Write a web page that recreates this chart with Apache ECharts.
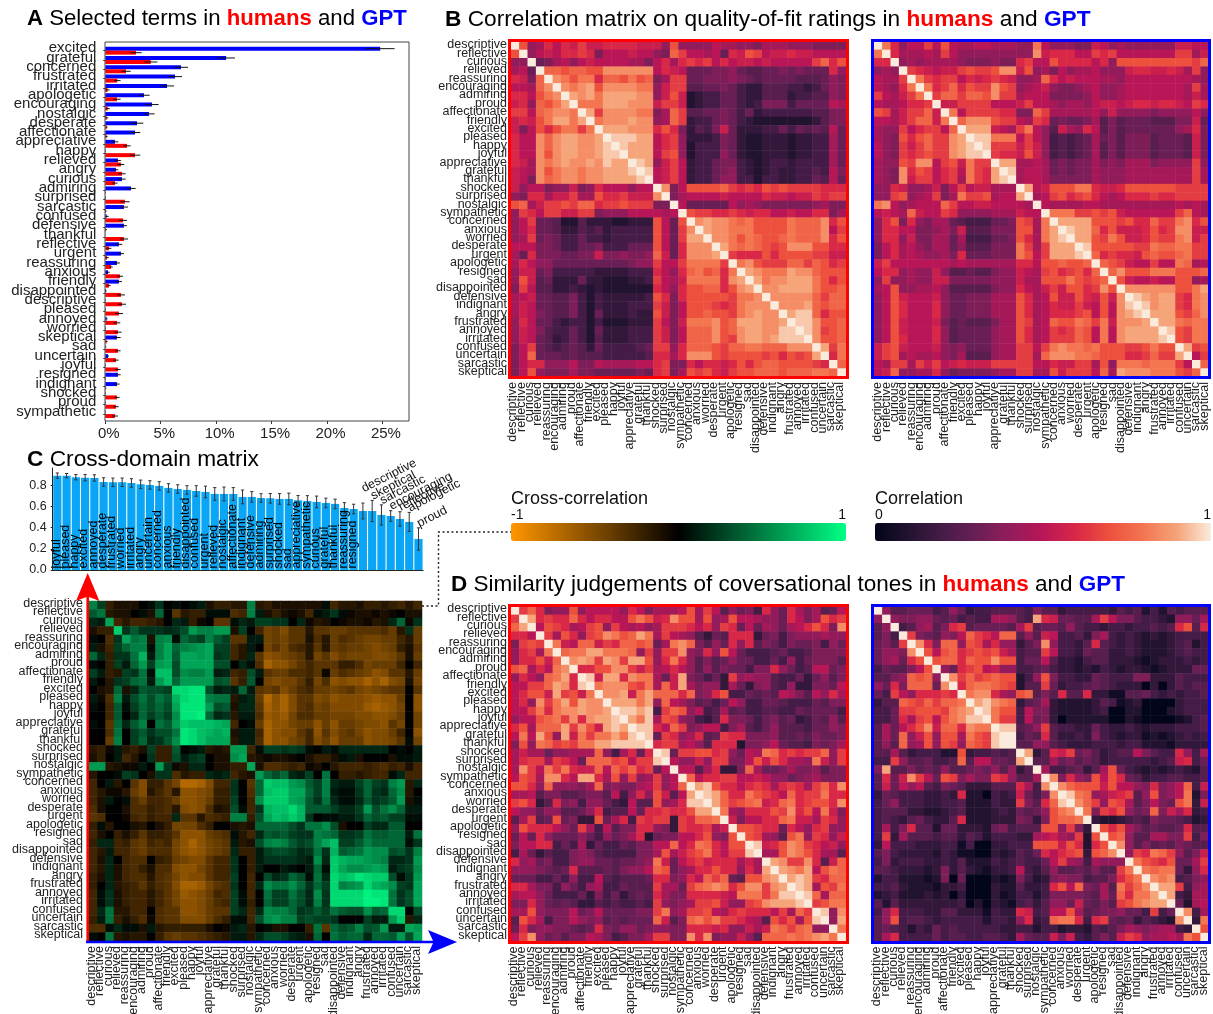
<!DOCTYPE html>
<html><head><meta charset="utf-8">
<style>html,body{margin:0;padding:0;background:#fff}#c{width:1213px;height:1014px}</style>
<script src="https://cdn.jsdelivr.net/npm/echarts@6/dist/echarts.min.js"></script>
</head><body><div id="c"></div>
<script>
const FONT='"Liberation Sans",Arial,sans-serif';
// Term order of the matrices
const terms=["descriptive","reflective","curious","relieved","reassuring","encouraging","admiring","proud","affectionate","friendly","excited","pleased","happy","joyful","appreciative","grateful","thankful","shocked","surprised","nostalgic","sympathetic","concerned","anxious","worried","desperate","urgent","apologetic","resigned","sad","disappointed","defensive","indignant","angry","frustrated","annoyed","irritated","confused","uncertain","sarcastic","skeptical"];
// Panel A
const aTerms=["excited","grateful","concerned","frustrated","irritated","apologetic","encouraging","nostalgic","desperate","affectionate","appreciative","happy","relieved","angry","curious","admiring","surprised","sarcastic","confused","defensive","thankful","reflective","urgent","reassuring","anxious","friendly","disappointed","descriptive","pleased","annoyed","worried","skeptical","sad","uncertain","joyful","resigned","indignant","shocked","proud","sympathetic"];
const aGpt=[24.8,10.9,6.83,6.29,5.57,3.49,4.21,3.94,2.86,2.68,0.87,0.03,1.14,0.96,1.5,2.32,0.03,1.68,0.12,1.68,0.01,1.23,1.41,1.05,0.24,1.23,0.06,0.03,0.03,0.12,0.03,1.05,0.03,0.24,0.03,1.14,1.05,0.03,0.03,0.03];
const aGptErr=[1.3,0.8,0.63,0.63,0.63,0.51,0.6,0.51,0.57,0.48,0.3,0.03,0.27,0.21,0.33,0.42,0.03,0.37,0.18,0.28,0.02,0.3,0.27,0.27,0.15,0.27,0.06,0.03,0.03,0.08,0.03,0.33,0.07,0.09,0.03,0.24,0.24,0.03,0.03,0.03];
const aHuman=[2.77,4.1,1.87,1.08,0.2,1.05,0.21,0.12,0.12,0.12,1.96,2.68,1.41,1.5,0.87,0.03,1.77,0.06,1.6,0.06,1.68,0.33,0.15,0.51,1.32,0.33,1.41,1.5,1.23,1.05,1.14,0.12,1.14,0.96,1.14,0.03,0.05,1.05,0.96,0.87];
const aHumanErr=[0.51,0.6,0.42,0.3,0.19,0.33,0.19,0.15,0.08,0.08,0.33,0.48,0.3,0.33,0.24,0.03,0.43,0.06,0.36,0.09,0.37,0.22,0.15,0.15,0.28,0.15,0.36,0.37,0.37,0.3,0.33,0.08,0.24,0.24,0.24,0.03,0.04,0.24,0.24,0.27];
const aTicks=[0,5,10,15,20,25];
// Panel C bars
const cTerms=["joyful","pleased","happy","excited","annoyed","desperate","frustrated","worried","irritated","angry","uncertain","concerned","anxious","friendly","disappointed","confused","urgent","relieved","nostalgic","affectionate","indignant","defensive","admiring","surprised","shocked","sad","appreciative","sympathetic","curious","grateful","thankful","reassuring","resigned","descriptive","skeptical","sarcastic","encouraging","reflective","apologetic","proud"];
const cVals=[.891,.891,.876,.872,.869,.831,.828,.828,.822,.809,.803,.794,.775,.765,.756,.746,.737,.718,.718,.718,.69,.69,.68,.677,.671,.671,.658,.652,.643,.633,.624,.586,.576,.557,.557,.52,.51,.482,.454,.293];
const cErrs=[.025,.02,.025,.03,.03,.04,.04,.04,.04,.04,.04,.04,.04,.04,.04,.05,.055,.06,.065,.06,.065,.05,.04,.045,.05,.055,.045,.05,.055,.045,.045,.05,.045,.075,.1,.095,.05,.068,.09,.105];
// Matrix letters: a=0 b=.05 c=.1 ... u=1; capitals are the same steps below zero (B=-.05 ...)
const bHuman=["u","ou","iiu","jkgu","mlhpu","kkjpru","mmkoqru","lmipoqsu","nnkpqrrqu","lmloqssqsu","lhkomoqqnqu","mkkrprssrrsu","mkkrprssrrstu","mkkrorssrrsttu","mljrqrsrrsrtssu","lkjroqrrqrrssstu","lkhrpqrrqrrsssstu","likkhiilhimkkkikku","ihmmjllnjjommnlllru","opjlnnonppmnnonnnhhu","inmknnllnnhiiikkkkjku","iknggfccfdddccdddokgou","ikmggfddfefdeeeeeokgnru","ijnghgeegeedeeeeeokgnssu","kkkhhgeegghe"+"eegggokgmrrru","jgmhhhgghhlhhihhiplgmrrrsu","jmkiiggggggggghiinkknqqqqnu","illgheeeeeddddeeemkimpqopmqu","iolfgdddgddcccddenkjlqqqqmrsu","hnkffddedcdccccccmkimooppmorsu","jklggffheceddddde"+"omhmooooonqqru","jlkggffhece"+"dddeee"+"nlhk"+"ooonmn"+"qrrr"+"u","jlkhgffhecg"+"dddedd"+"olhk"+"oopoon"+"qrsrr"+"u","imkggedeece"+"cccddd"+"nkhl"+"qqqrop"+"sssrrs"+"u","ilkhfeegecg"+"dddeee"+"nlhk"+"ppprop"+"rssrrtt"+"u","ilkgfdegecf"+"dddeee"+"nlhk"+"ppp"+"ron"+"rssrsttt"+"u","hkngfefgfdg"+"eeeefg"+"nnim"+"pppon"+"ppqqppp"+"rrr"+"u","hkpgggfgfff"+"eeeeef"+"mmjm"+"rrron"+"oooo"+"nomono"+"su","hkmmiiikhhk"+"jjjjkk"+"mnhh"+"mkmmlm"+"omoppoooo"+"nm"+"u","hkoihhhjhhg"+"gggghg"+"mnhj"+"onomln"+"oopppoppp"+"qqp"+"u"];
const bGpt=["u","qu","mmu","ijiu","kjjnu","kjimqu","nkjlnqu","kjjkmmnu","onjlnnplu","kkjlnpplqu","jiinkmnnkpu","jihomopnnrsu","kihnlnpnnrstu","kihnmnonnrsttu","jiionrrknolqnnu","jihrmonkmnkqnmsu","jihrlnnkmnjqnmstu","iimliijlhknklljjju","iinoijknhjqnnojkksu","qrkijkkkpnkkllkkkkju","klkjplkknmiiiijjjlkku","imohmihjjgfeeegghonjqu","immkkhhijhlfffhhhoojqsu","immilhhjjgjeeegghomjqstu","hkmjkihjjgifffhhhqnjnsssu","hkmjkjiijhmggghhhqoknssstu","lnkkkkkkkjkjjjjjjmmkoopoopu","kmmijiilif"+"fgffhii"+"lkjn"+"omnomp"+"u","iniijiillh"+"hhhhiii"+"ljjo"+"ooqonop"+"u","jkoiijjkif"+"ffffhii"+"mkjl"+"nloomnro"+"u","ikolkkklig"+"ghhhjjj"+"omjk"+"olloml"+"olr"+"u","ikomkkkmig"+"ghhhjjj"+"omjk"+"mllnlk"+"okrt"+"u","ikomkkkmig"+"ghhhjjj"+"omjk"+"mmmnok"+"okrst"+"u","ikolkkklhf"+"gfffhjj"+"onjk"+"pooqpn"+"qlrrrs"+"u","ikolkkkmif"+"ggggijj"+"omjk"+"nmnpok"+"qkrssss"+"u","ikomkkkmif"+"ggggijj"+"omjk"+"nnnpok"+"qkrssss"+"tu","lnolkkklih"+"igggijj"+"nnkn"+"qrqqpq"+"ooonnoqoo"+"u","lnojkjjkih"+"jfffijj"+"nnjp"+"rrrqqp"+"ooommnpnn"+"su","kjnnjnlnkl"+"mlllnnn"+"nnkk"+"mllnnj"+"oiqqqpqqq"+"nku","klpiijjmig"+"hhhhijj"+"nnjj"+"olnnnk"+"pjsrrrqqq"+"onpu"];
const dHuman=["u","nu","psu","mmku","hnonu","imnjqu","immolpu","opjmkqru","imkipqsmu","kknnpsrmtu","kmoolsnolqu","kmirnqsosrru","kknqmqrrsrrsu","ikkopqnrmrsstu","mojpppsnrolstsu","kqksoislqnqqsqtu","hoiqpnonqqssttttu","jljjgiijjjpiejmgmu","jmnnjnmkgpppnoknntu","jrnkqnqmllpkpnpmngku","konjrrmkssmjoinijnik"+"u","oomipiiihjphihhjknikpu","jjkfhhffghhfkeimiolfksu","nomdfmhieiigedkffoijmttu","kiigiiffgimeffkgmmnmmossu","fjnfgoghddogjmenmnndnmppqu","iommmkignj"+"ekfhhmmihd"+"nmmnjlu","gkgmigggig"+"eighjmcghh"+"kkmoihou","hkkmmegejd"+"geegfhhkkp"+"kmqpmkoou","ejgdfeehih"+"feeeehhjoj"+"lnoqmknnt"+"u","mijgheehii"+"ggfgghiqlg"+"kmnlmmmjlj"+"u","iiihgfgmff"+"fgfhiikpog"+"ijmmommimjs"+"u","gggeegeiee"+"kfefffgmmh"+"imkpnpgfoors"+"u","mmjhheigei"+"jeegfffnjj"+"gnpqrqmorrnrs"+"u","jkkigeeegd"+"hegdfgfmjh"+"hmmmmlkqqqnqtt"+"u","hhmigfgfdd"+"fefeefenih"+"ijnnoliino"+"rssst"+"u","jjoihhhkgh"+"kgggghhnqi"+"jnnokjmnmmmknjpn"+"u","fomjehhkih"+"ifgfgggplf"+"hpqoqnnmkjfomojot"+"u","gmhiihhgfg"+"mhgiighiih"+"hmmmlmiiljlqpnpqii"+"u","knrighfhhk"+"jhefhhjnnh"+"hrmrhiilif"+"pppqpqrsq"+"u"];
const dGpt=["u","iu","fiu","fheu","ghfnu","giihru","gijgmou","egffhkou","ffhipopiu","igmhpppgru","genkimmmnmu","dffponpnppqu","eegnnooonqrsu","eegmjnokoqrttu","fjgkmorlppmrqqu","fjgpiloioojqontu","fifpijoionipontuu","ffjfdeeeccodeefefu","eeniffgeefpfkkggfsu","hsffhfgfiffghgifidfu","fmglrnkgonhjhhnmiffju","flgkikfehgfdddfffmjeru","dgfeeeddedmccaedelgehru","egieeeddeefccceddnhfmptu","efffddccde"+"fcccdedgfg"+"ioqru","efedfgeddf"+"mcccdddhgd"+"hoppqu","ejehmffcgg"+"dddcghefff"+"ooinhdu","endjfffeff"+"dfeceeeddj"+"kljincou","dkeeedddee"+"beaaddeeeo"+"oolomcmou","fheddddced"+"bbaadcdfeg"+"mkmnodopru","ehdeeedded"+"fcccedefee"+"gknjiejiii"+"u","ffedddcdhd"+"fdcbddeked"+"fiffgfhffn"+"qu","ceecccbcha"+"gaaacbchec"+"dhihheffhm"+"oqu","eefdcccbdd"+"eaaadccfdd"+"emokphgjfqnpr"+"u","cdecccdcda"+"daaadbceec"+"ehhhhgfjgp"+"mqqsu","fcfddddddd"+"eacadcbefd"+"fiiglgfhfn"+"oqrssu","eimeeeddff"+"dddbeddmle"+"fkkojfghhi"+"ggeneg"+"u","fioeffedee"+"eeeceedimd"+"epqqmemngf"+"gdfedcru","fgfecedgef"+"eeeeeddeec"+"eecddcfefh"+"jihijjedu","fjmeeeegef"+"feeffedjgf"+"flhledfhfl"+"nmijjkjqou"];
const cross=["kfECCCabea"+"babcCEEDDk"+"DECCCCCCbF"+"DDCEEDEFDF","hjDCCabCia"+"HDEEbbbGFk"+"cCECBCFbce"+"bBCCBCBaCC","dcnFDFFEDa"+"dcEBaHHbdc"+"ffeeadBDCa"+"BCCBDCdiBe","CEEqeheeed"+"egmkkmmCfa"+"FJIKHHDHHI"+"IHHHHGIDeI","baGenjkCkl"+"bigfkhfHHc"+"cJIJHHCGDI"+"GHIJJIIFDI","cCFfikkbkn"+"iklmnffFDc"+"aJHJGFDHDI"+"HIIJKJIECH","idEeejockn"+"hnnmnefFDd"+"HLKJIHDJHK"+"IJJJKKJHCI","baEfcimfmn"+"gnnnnggadb"+"GNLLJHFHHH"+"EEGJIIIFaF","fcEDfejbpp"+"glkkmcdFEg"+"cHIIGGFHBI"+"GHIJLKHHDI","caDefijcmp"+"immmmghHEh"+"aJKJJHEJGL"+"KLLNLNKJCJ","aCDiCdhggf"+"rrssgcdcic"+"HIHKIGFIIJ"+"IHJKJIHHaH","cBGkcgjgjh"+"orsskjjDcd"+"IOLNKHHKJL"+"KKKLMLLIaL","baFhbfigig"+"nsssmghCdd"+"HNLNKHGJIK"+"KKKMNMLJaL","aaFhadifhf"+"lsstideDcc"+"GMLMJGGIIJ"+"JJKKLLKIaJ","baHidhkajh"+"mqpppon"+"Fab"+"INLLJIILIL"+"IIJKKLHJaJ","aaGjafhegg"+"jsrponoCcc"+"FNLKKHFLHK"+"IHJLKKIFaL","aaIkafideh"+"lsrpnnnDcc"+"GNLLJIFKIL"+"IIILKKJHbJ","DEBcDECfEE"+"habcDCDmmF"+"bffefebacb"+"ddddddabac","CEacFDaeEE"+"gcefaCClnD"+"CBCCBaCEEC"+"bcCaaaCbbc","mmDCBBcame"+"BCddaCCEEn"+"CGGFEFBCaD"+"FFFEFGEFCF","DaabfeaCee"+"GDEEdcdFDC"+"migidcfaja"+"EEDEFFbdFF","FacDaHKEEH"+"JOONKFFeaH"+"iqppmlhfkd"+"ccfifekmDd","FDBBDIKDFH"+"DLLKJEEeaG"+"ipqqnnifkc"+"bbeiedilDa","FCcabGIFFG"+"ILLKIEEfaF"+"lqqqnmhejd"+"bbdhefhmCb","GCaaCGGEFG"+"DKLKGCDgbF"+"eopprohhhf"+"ddfmgjlicc","HGaaBFGEFF"+"dHHDGFEkkE"+"gnpoqoeabb"+"cceighffbb","EbDaaCDaCE"+"JJJGEaaCDC"+"iiiigejjlg"+"Caafddhhaa","FCaECEHEEF"+"HLLLIHGbDF"+"dhghfeekji"+"eefjhhiicj","EddFEHIFGF"+"JLNLJIHcDC"+"gklkhfgknp"+"ffhkiiiibe","FDcFFHIGGG"+"JLMLJIHdEE"+"cfggfdejeo"+"hijmllghek","FCdaFGGaEF"+"IJKKHFFeaE"+"ceeeedcldq"+"onnmlkddem","FDdCFGECGG"+"KLLJHFFeaE"+"caacbacibq"+"nllmnmcefl","ECdCFGGDGH"+"JLKKHFFfaF"+"agdeigbjdr"+"pqsrqqgbem","EadDEFHEGH"+"KNNMJHGeaF"+"dljjlieifr"+"klmronlfen","FbeCEFFDFH"+"JMLKIFGfbF"+"ajffjgdler"+"rrrtssjegn","FbeCEFFDFH"+"JLLKIGFfbE"+"aiffigdker"+"rrrttsjegn","FdjDDFFaGH"+"HLLKIHHfdF"+"dlkkiefhfj"+"hgglhirrag","EcjECEGBGH"+"HKKKIGEbbF"+"glmkkfgffe"+"aaafccmqDd","GGbdbbCcDE"+"EEEECaBcdD"+"abCCaaEjHi"+"ghkghmccnm","bajDCDDaEH"+"IHHGFEDccD"+"dggfdcCiaj"+"hiidiihmgn"];
const rocket=["#03051a","#221331","#451c47","#691f55","#921c5b","#b91657","#d92847","#ed513e","#f37651","#f6a47a","#faebdd"];
const crossColors=["#ff9500","#000000","#00ff85"];

function level(ch){const lo="abcdefghijklmnopqrstu".indexOf(ch);return lo>=0?lo/20:-"ABCDEFGHIJKLMNOPQRSTU".indexOf(ch)/20;}
function triCells(rows){const out=[];rows.forEach((r,i)=>{for(let j=0;j<=i;j++){const v=level(r[j]);out.push([j,i,v]);if(j!==i)out.push([i,j,v]);}});return out;}
function fullCells(rows){const out=[];rows.forEach((r,i)=>{for(let j=0;j<40;j++)out.push([j,i,level(r[j])]);});return out;}

const heatGrids=[
 {name:"bH",left:511,top:41.5,w:335,h:335.5,labels:true,cells:triCells(bHuman),xs:5,ys:2},
 {name:"bG",left:874,top:41.5,w:335,h:335.5,labels:false,cells:triCells(bGpt),xs:1,ys:2},
 {name:"c", left:89, top:601,w:333,h:340,labels:true,cells:fullCells(cross),ym:6,xs:3,ys:4},
 {name:"dH",left:511,top:606.5,w:335,h:335,labels:true,cells:triCells(dHuman),xs:3.6,ys:4},
 {name:"dG",left:874,top:606.5,w:335,h:335,labels:false,cells:triCells(dGpt),xs:3,ys:4}
];
const grids=[{left:105.3,top:46,width:303.7,height:372.7,outerBoundsMode:'none'},{left:52.7,top:468,width:370.4,height:102,outerBoundsMode:'none'}];
const xAxes=[
 {gridIndex:0,type:'value',min:0,max:27.4,interval:5,offset:2.3,splitLine:{show:false},axisLine:{show:false},axisTick:{show:true,length:3,lineStyle:{color:'#333'}},
  axisLabel:{fontFamily:FONT,fontSize:15,color:'#222',margin:5,showMaxLabel:false,padding:[0,0,0,7],formatter:v=>aTicks.includes(v)?v+'%':''}},
 {gridIndex:1,type:'category',data:cTerms,axisLabel:{show:false},axisLine:{lineStyle:{color:'#222',width:1}},axisTick:{alignWithLabel:true,length:2,lineStyle:{color:'#222'}},splitLine:{show:false}}
];
const yAxes=[
 {gridIndex:0,type:'category',inverse:true,data:aTerms,axisLine:{show:false},axisTick:{show:true,alignWithLabel:true,length:2,lineStyle:{color:'#222'}},
  axisLabel:{interval:0,fontFamily:FONT,fontSize:15,color:'#222',margin:9,verticalAlign:'bottom',lineHeight:5}},
 {gridIndex:1,type:'value',min:0,max:0.963,interval:0.2,splitLine:{show:false},axisLine:{show:true,lineStyle:{color:'#222'}},axisTick:{show:true,length:2,lineStyle:{color:'#222'}},
  axisLabel:{fontFamily:FONT,fontSize:12.5,color:'#222',margin:6,showMaxLabel:false,formatter:v=>v.toFixed(1)}}
];
const series=[
 {type:'bar',name:'GPT',xAxisIndex:0,yAxisIndex:0,data:aGpt,barWidth:4,barGap:'0%',itemStyle:{color:'#0000ff'}},
 {type:'bar',name:'humans',xAxisIndex:0,yAxisIndex:0,data:aHuman,barWidth:4,barGap:'0%',itemStyle:{color:'#ff0000'}},
 errA(aGpt,aGptErr,-2),errA(aHuman,aHumanErr,2),
 {type:'bar',xAxisIndex:1,yAxisIndex:1,data:cVals,barWidth:8.2,itemStyle:{color:'#0aa6f5'}},
 {type:'custom',xAxisIndex:1,yAxisIndex:1,z:5,encode:{x:0,y:[1]},data:cVals.map((v,i)=>[i,v,cErrs[i]]),
  renderItem(p,api){const i=api.value(0),v=api.value(1),e=api.value(2),a=api.coord([i,v+e]),b=api.coord([i,v-e]);
   const ls=(x1,y1,x2,y2)=>({type:'line',shape:{x1,y1,x2,y2},style:{stroke:'#333',lineWidth:1}});
   return {type:'group',children:[ls(a[0],a[1],b[0],b[1]),ls(a[0]-1.6,a[1],a[0]+1.6,a[1]),ls(a[0]-1.6,b[1],a[0]+1.6,b[1])]};}},
 {type:'custom',xAxisIndex:1,yAxisIndex:1,z:6,encode:{x:0,y:[1]},clip:false,data:cVals.map((v,i)=>[i,v,cErrs[i]]),
  renderItem(p,api){const i=api.value(0),v=api.value(1),e=api.value(2),name=cTerms[i];
   if(i<33){const a=api.coord([i,0]);
    return {type:'text',x:a[0]-1.2,y:a[1]-1.5,rotation:Math.PI/2,style:{text:name,x:0,y:0,fill:'#000',font:'12.5px '+FONT,textAlign:'left',textVerticalAlign:'middle',align:'left',verticalAlign:'middle'}};}
   const a=api.coord([i,v+e]);
   return {type:'text',x:a[0]+2.4,y:a[1]-(name==='descriptive'?8:-2),rotation:27*Math.PI/180,style:{text:name,x:0,y:0,fill:'#111',font:'12.5px '+FONT,textAlign:'left',textVerticalAlign:'bottom',align:'left',verticalAlign:'bottom'}};}}
];
function errA(vals,errs,off){return {type:'custom',xAxisIndex:0,yAxisIndex:0,z:4,encode:{x:[0],y:1},data:vals.map((v,i)=>[v,i,errs[i]]),
  renderItem(p,api){const v=api.value(0),i=api.value(1),e=api.value(2),a=api.coord([Math.max(v-e,0),i]),b=api.coord([v+e,i]);
   return {type:'line',shape:{x1:a[0],y1:a[1]+off,x2:b[0],y2:b[1]+off},style:{stroke:'#111',lineWidth:1}};}};}
const rocketIdx=[],crossIdx=[];
heatGrids.forEach(g=>{
 const gi=grids.length;
 grids.push({left:g.left,top:g.top,width:g.w,height:g.h,outerBoundsMode:'none'});
 xAxes.push({gridIndex:gi,type:'category',data:terms,axisLine:{show:false},axisTick:{show:false},splitLine:{show:false},
  axisLabel:{interval:0,rotate:90,fontFamily:FONT,fontSize:12.5,color:'#222',margin:5,verticalAlign:'bottom',lineHeight:g.xs}});
 yAxes.push({gridIndex:gi,type:'category',inverse:true,data:terms,axisLine:{show:false},axisTick:{show:false},splitLine:{show:false},
  axisLabel:{show:g.labels,interval:0,fontFamily:FONT,fontSize:12.5,color:'#222',margin:g.ym||4,verticalAlign:'bottom',lineHeight:g.ys}});
 (g.name==='c'?crossIdx:rocketIdx).push(series.length);
 series.push({type:'heatmap',xAxisIndex:gi,yAxisIndex:gi,data:g.cells,progressive:0,itemStyle:{borderWidth:0}});
});
const txt=(x,y,text,size,align)=>({type:'text',z:60,silent:true,x,y,style:{text,fill:'#111',font:size+'px '+FONT,align:align||'left',verticalAlign:'middle'}});
const frame=(x1,y1,x2,y2,c)=>({type:'rect',z:50,silent:true,shape:{x:x1,y:y1,width:x2-x1,height:y2-y1},style:{fill:'none',stroke:c,lineWidth:3}});
const rich=s=>({b:{fontWeight:'bold',fontSize:s,fontFamily:FONT,color:'#000'},r:{fontWeight:'bold',fontSize:s,fontFamily:FONT,color:'#ff0000'},g:{fontWeight:'bold',fontSize:s,fontFamily:FONT,color:'#0000ff'}});
const title=(text,left,top,s)=>({text,left,top,padding:0,textStyle:{fontFamily:FONT,fontSize:s,fontWeight:'normal',color:'#000',rich:rich(s)}});
const option={
 animation:false,backgroundColor:'#fff',
 title:[
  title('{b|A} Selected terms in {r|humans} and {g|GPT}',27,8,22.2),
  title('{b|B} Correlation matrix on quality-of-fit ratings in {r|humans} and {g|GPT}',445,8,22.7),
  title('{b|C} Cross-domain matrix',27,448,22.7),
  title('{b|D} Similarity judgements of coversational tones in {r|humans} and {g|GPT}',451,573,22.5)
 ],
 grid:grids,xAxis:xAxes,yAxis:yAxes,series,
 visualMap:[
  {type:'continuous',seriesIndex:rocketIdx,dimension:2,min:0,max:1,inRange:{color:rocket},orient:'horizontal',left:875,top:523,itemWidth:18,itemHeight:336,padding:0,calculable:false,hoverLink:false,text:null,textStyle:{fontSize:0}},
  {type:'continuous',seriesIndex:crossIdx,dimension:2,min:-1,max:1,inRange:{color:crossColors},orient:'horizontal',left:511,top:523,itemWidth:18,itemHeight:335,padding:0,calculable:false,hoverLink:false,text:null,textStyle:{fontSize:0}}
 ],
 graphic:{elements:[
  {type:'rect',z:40,silent:true,shape:{x:105,y:42,width:304,height:379},style:{fill:'none',stroke:'#444',lineWidth:1}},
  frame(509.5,40.5,847.5,377.5,'#ff0000'),frame(872.5,40.5,1209.5,377.5,'#0000ff'),
  frame(509.5,605.5,847.5,942.5,'#ff0000'),frame(872.5,605.5,1209.5,942.5,'#0000ff'),
  {type:'polyline',z:45,silent:true,shape:{points:[[422,606],[438.5,606],[438.5,532],[511,532]]},style:{fill:'none',stroke:'#222',lineWidth:1.4,lineDash:[2,2.5]}},
  {type:'polygon',z:46,silent:true,shape:{points:[[86.4,942],[86.4,597],[76,601],[87.7,573],[99.4,601],[89,597],[89,942]]},style:{fill:'#ff0000'}},
  {type:'polygon',z:47,silent:true,shape:{points:[[86,940.7],[433,940.7],[428,930],[457,942],[428,954],[433,943.3],[86,943.3]]},style:{fill:'#0000ff'}},
  txt(511,499,'Cross-correlation',18),txt(511,515,'-1',14),txt(846,515,'1',14,'right'),
  txt(875,499,'Correlation',18),txt(875,515,'0',14),txt(1211,515,'1',14,'right')
 ]}
};
const chart=echarts.init(document.getElementById('c'),null,{renderer:'canvas',width:1213,height:1014});
chart.setOption(option);
</script></body></html>
